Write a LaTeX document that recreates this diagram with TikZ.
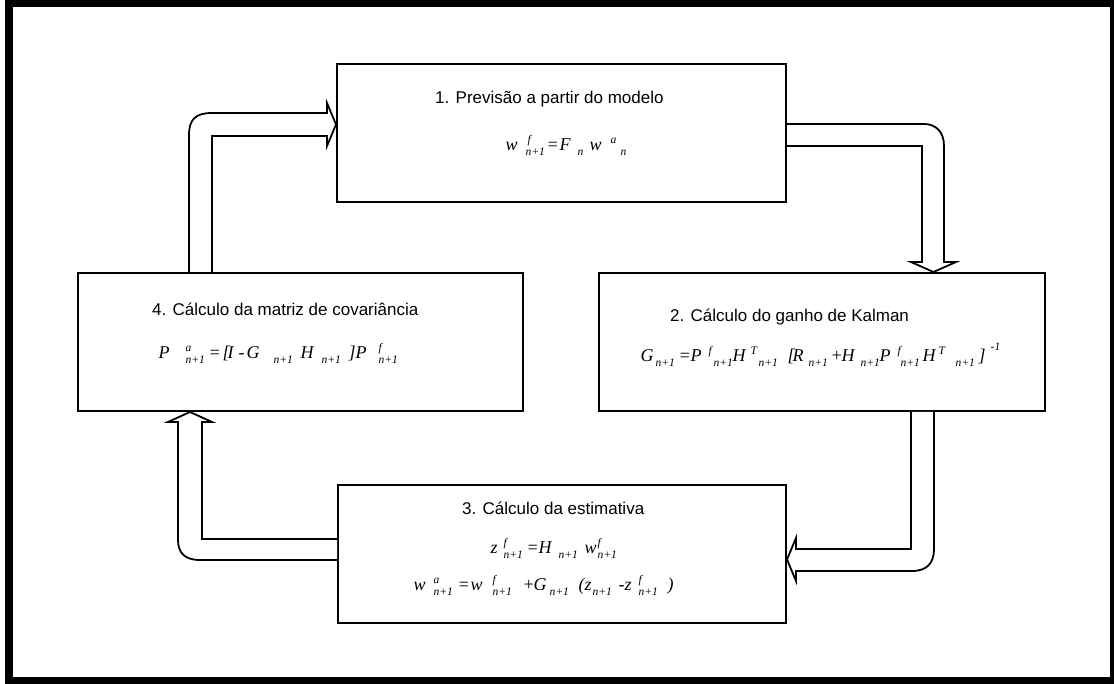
\documentclass[tikz,border=0pt]{standalone}
\usepackage{fontspec}
\setmainfont{Liberation Sans}
\newfontfamily\eqfont{Liberation Serif}
\newcommand\At[2]{\rlap{\hspace{#1pt}#2}}
\newcommand\Upx[1]{\raisebox{7pt}{\fontsize{11.5}{12}\selectfont #1}}
\newcommand\Dnx[1]{\raisebox{-5pt}{\fontsize{11.5}{12}\selectfont #1}}
\tikzset{
  stage/.style={draw, line width=2pt, minimum height=138pt, inner sep=0pt},
  blockarrow/.style={draw, line width=1.8pt, fill=white, line join=miter},
  title/.style={anchor=base west, inner sep=0pt, font=\fontsize{17}{20}\selectfont},
  eq/.style={anchor=base west, inner sep=0pt, font=\eqfont\itshape\fontsize{18}{20}\selectfont},
}
\begin{document}
\begin{tikzpicture}[x=1pt,y=-1pt]
\useasboundingbox (0,0) rectangle (1114,684);
\draw[line width=7.5pt] (9,3.5) rectangle (1114,680.5);

\node[stage, minimum width=449pt] (b1) at (561.5,133) {};
\node[stage, minimum width=446pt] (b2) at (822,342) {};
\node[stage, minimum width=445pt] (b4) at (300.5,342) {};
\node[stage, minimum width=448pt] (b3) at (562,554) {};

% arrow 4 -> 1
\draw[blockarrow] (189,0 |- b4.north) -- (189,135) .. controls (189,119) and (196,113) .. (212,113)
  -- (327,113) -- (327,103) -- (b1.west |- 0,124.5) -- (327,146) -- (327,136) -- (212,136)
  -- (212,0 |- b4.north);
% arrow 1 -> 2
\draw[blockarrow] (b1.east |- 0,124) -- (924,124) .. controls (936,124) and (944,132) .. (944,146)
  -- (944,262) -- (956,262) -- (933.5,0 |- b2.north) -- (911,262) -- (922,262) -- (922,146)
  -- (b1.east |- 0,146);
% arrow 2 -> 3
\draw[blockarrow] (911,0 |- b2.south) -- (911,549) -- (796,549) -- (796,538) -- (b3.east |- 0,559.5)
  -- (796,581) -- (796,571) -- (912,571) .. controls (927,571) and (934,563) .. (934,549)
  -- (934,0 |- b2.south);
% arrow 3 -> 4
\draw[blockarrow] (b3.west |- 0,539) -- (202,539) -- (202,422) -- (212,422) -- (190,0 |- b4.south)
  -- (168,422) -- (178,422) -- (178,540) .. controls (178,553) and (185,560) .. (200,560)
  -- (b3.west |- 0,560);

\node[title] (t1) at (435,104) {1. Previsão a partir do modelo};
\node[eq] (e1) at (505,151) {\At{0}{w}\At{22}{\Upx{f}}\At{20}{\Dnx{n+1}}\At{41}{=}\At{54}{F}\At{72}{\Dnx{n}}\At{84}{w}\At{105}{\Upx{a}}\At{115}{\Dnx{n}}};

\node[title] (t2) at (670,322) {2. Cálculo do ganho de Kalman};
\node[eq] (e2) at (640,362) {\At{0}{G}\At{15}{\Dnx{n+1}}\At{38}{=}\At{50}{P}\At{68}{\Upx{f}}\At{73}{\Dnx{n+1}}\At{92}{H}\At{110}{\Upx{T}}\At{118}{\Dnx{n+1}}\At{147}{[}\At{152}{R}\At{168}{\Dnx{n+1}}\At{190}{+}\At{201}{H}\At{220}{\Dnx{n+1}}\At{239}{P}\At{257}{\Upx{f}}\At{260}{\Dnx{n+1}}\At{282}{H}\At{298}{\Upx{T}}\At{315}{\Dnx{n+1}}\At{338}{]}\At{350}{\raisebox{11pt}{\fontsize{11.5}{12}\selectfont -1}}};

\node[title] (t4) at (152,316) {4. Cálculo da matriz de covariância};
\node[eq] (e4) at (158,359) {\At{0}{P}\At{27}{\Upx{a}}\At{27}{\Dnx{n+1}}\At{50}{=}\At{64}{[}\At{69}{I}\At{80}{-}\At{88}{G}\At{115}{\Dnx{n+1}}\At{142}{H}\At{163}{\Dnx{n+1}}\At{190}{]}\At{197}{P}\At{220}{\Upx{f}}\At{220}{\Dnx{n+1}}};

\node[title] (t3) at (462,514) {3. Cálculo da estimativa};
\node[eq] (e3a) at (490,553) {\At{0}{z}\At{13}{\Upx{f}}\At{13}{\Dnx{n+1}}\At{36}{=}\At{48}{H}\At{68}{\Dnx{n+1}}\At{94}{w}\At{107}{\Upx{f}}\At{107}{\Dnx{n+1}}};
\node[eq] (e3b) at (413,590) {\At{0}{w}\At{20}{\Upx{a}}\At{20}{\Dnx{n+1}}\At{44}{=}\At{57}{w}\At{79}{\Upx{f}}\At{79}{\Dnx{n+1}}\At{109}{+}\At{120}{G}\At{136}{\Dnx{n+1}}\At{165}{(}\At{171}{z}\At{179}{\Dnx{n+1}}\At{205}{-}\At{211}{z}\At{225}{\Upx{f}}\At{225}{\Dnx{n+1}}\At{254}{)}};
\end{tikzpicture}
\end{document}
